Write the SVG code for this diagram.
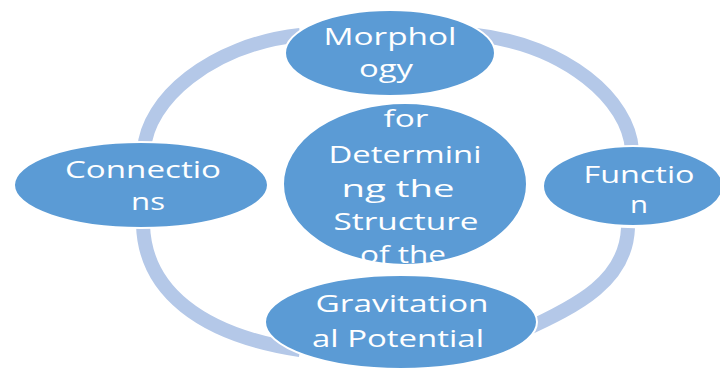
<svg xmlns="http://www.w3.org/2000/svg" width="720" height="368" viewBox="0 0 720 368">
<style>
.node{fill:#5B9BD5;stroke:#FFFFFF;stroke-width:2}
.ring{fill:none;stroke:#B4C8E8;stroke-width:14}
.lbl{font-family:"Open Sans","Noto Sans","DejaVu Sans",sans-serif;font-size:24px;fill:#FFFFFF;text-anchor:middle}
</style>
<rect width="720" height="368" fill="#FFFFFF"/>
<g id="connectors">
<path class="ring" d="M144,150 C147,100 210,45 300,35"/>
<path class="ring" d="M632,150 C629,100 566,45 476,35"/>
<path class="ring" d="M143,225 C145,290 200,335 300,350"/>
<path class="ring" d="M628,228 C626,280 580,305 520,332"/>
</g>
<g id="morphology">
<ellipse class="node" cx="390" cy="53" rx="105" ry="43"/>
<text class="lbl" x="390" y="45" textLength="133" lengthAdjust="spacingAndGlyphs">Morphol</text>
<text class="lbl" x="386" y="77" textLength="54" lengthAdjust="spacingAndGlyphs">ogy</text>
</g>
<g id="center">
<ellipse class="node" cx="405" cy="184" rx="122" ry="81"/>
<text class="lbl" x="406" y="127" textLength="45" lengthAdjust="spacingAndGlyphs">for</text>
<text class="lbl" x="405" y="163" textLength="153" lengthAdjust="spacingAndGlyphs">Determini</text>
<text class="lbl" x="398" y="197" textLength="113" lengthAdjust="spacingAndGlyphs">ng the</text>
<text class="lbl" x="406" y="230" textLength="145" lengthAdjust="spacingAndGlyphs">Structure</text>
<text class="lbl" x="403" y="263" textLength="86" lengthAdjust="spacingAndGlyphs">of the</text>
</g>
<g id="connections">
<ellipse class="node" cx="141" cy="185" rx="127" ry="43"/>
<text class="lbl" x="143" y="178" textLength="156" lengthAdjust="spacingAndGlyphs">Connectio</text>
<text class="lbl" x="148" y="210" textLength="34" lengthAdjust="spacingAndGlyphs">ns</text>
</g>
<g id="function">
<ellipse class="node" cx="633" cy="186" rx="90" ry="40"/>
<text class="lbl" x="639" y="183" textLength="111" lengthAdjust="spacingAndGlyphs">Functio</text>
<text class="lbl" x="639" y="213" textLength="18" lengthAdjust="spacingAndGlyphs">n</text>
</g>
<g id="gravitational">
<ellipse class="node" cx="401" cy="322" rx="136" ry="47"/>
<text class="lbl" x="402" y="312" textLength="173" lengthAdjust="spacingAndGlyphs">Gravitation</text>
<text class="lbl" x="398" y="347" textLength="172" lengthAdjust="spacingAndGlyphs">al Potential</text>
</g>
</svg>
